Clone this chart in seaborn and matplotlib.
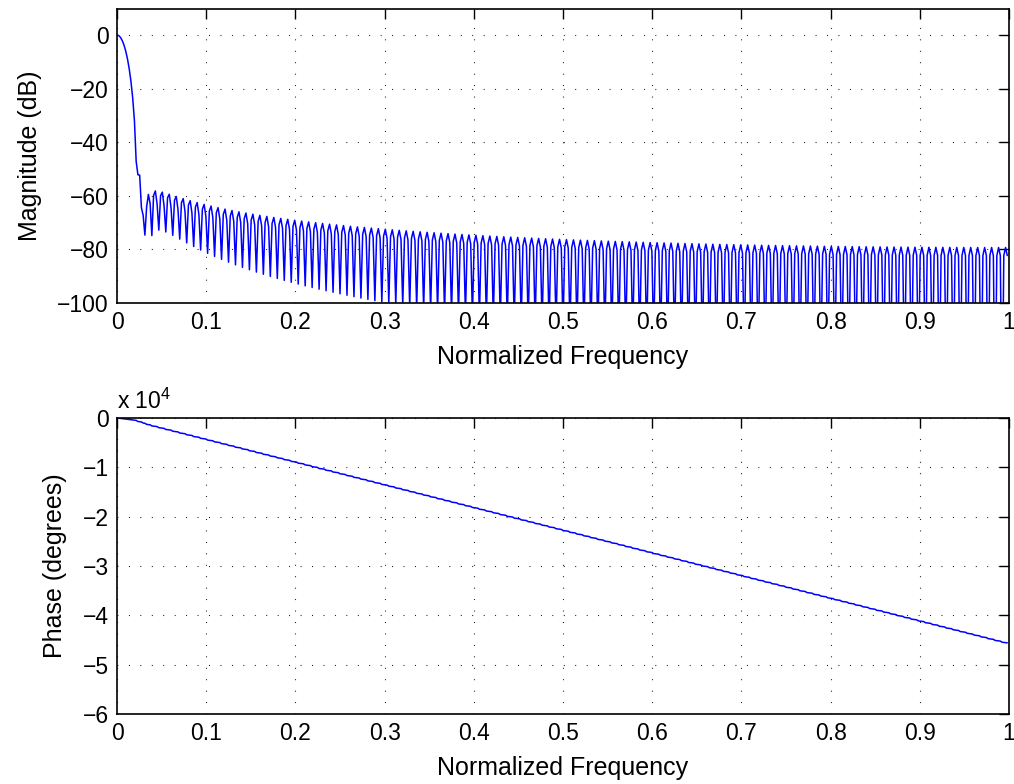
#frequency response (magnitude + phase) of a long lowpass FIR
import numpy as np
import pandas as pd
import matplotlib
matplotlib.use("Agg")
import matplotlib.pyplot as plt
import seaborn as sns

# filter settings (order from the phase slope, cutoff from the roll-off)
filter_order = 255
cutoff = 0.0091
n_points = 512

# axes settings
x_ticks = [0, 0.1, 0.2, 0.3, 0.4, 0.5, 0.6, 0.7, 0.8, 0.9, 1]
mag_ticks = [-100, -80, -60, -40, -20, 0]
mag_limits = [-100, 9.7]
phase_ticks = [-6, -5, -4, -3, -2, -1, 0]
phase_limits = [-6, 0]

# windowed-sinc lowpass (hamming), like fir1
n = np.arange(filter_order + 1)
delay = filter_order / 2
taps = cutoff * np.sinc(cutoff * (n - delay)) * np.hamming(filter_order + 1)
taps = taps / taps.sum()

# response on 512 points between 0 and nyquist
H = np.fft.fft(taps, 2 * n_points)[:n_points]
freq = np.arange(n_points) / n_points
mag_db = 20 * np.log10(np.abs(H) + 1e-15)

# phase: linear part plus a -180 step at every sign change of the amplitude
amp = np.real(H * np.exp(1j * np.pi * delay * freq))
flips = np.concatenate([[0], np.cumsum(np.diff(np.sign(amp)) != 0)])
phase_deg = -180 * delay * freq - 180 * flips

df = pd.DataFrame({"freq": freq, "mag": mag_db, "phase": phase_deg / 1e4})

sns.set_style("white")
plt.rcParams["font.family"] = ["Liberation Sans", "DejaVu Sans"]
plt.rcParams["mathtext.fontset"] = "custom"
plt.rcParams["mathtext.rm"] = "Liberation Sans"
plt.rcParams["mathtext.default"] = "regular"
plt.rcParams["text.color"] = "k"
plt.rcParams["axes.labelcolor"] = "k"
plt.rcParams["xtick.color"] = "k"
plt.rcParams["ytick.color"] = "k"

fig = plt.figure(figsize=(10.14, 7.84), dpi=100)
ax1 = fig.add_axes([0.1154, 0.6135, 0.8797, 0.375])
ax2 = fig.add_axes([0.1154, 0.0893, 0.8797, 0.3776])

grid_style = dict(linestyle=(0, (0.8, 9.5)), color="k", linewidth=0.8)

# magnitude
sns.lineplot(data=df, x="freq", y="mag", ax=ax1, color="b", linewidth=1.1, estimator=None)
ax1.set_ylim(mag_limits)
ax1.set_yticks(mag_ticks)
ax1.set_ylabel("Magnitude (dB)", fontsize=18, labelpad=11)

# phase
sns.lineplot(data=df, x="freq", y="phase", ax=ax2, color="b", linewidth=1.1, estimator=None)
ax2.set_ylim(phase_limits)
ax2.set_yticks(phase_ticks)
ax2.set_ylabel("Phase (degrees)", fontsize=18, labelpad=11)
ax2.text(0, 1.012, "x 10$^{4}$", transform=ax2.transAxes, ha="left", va="bottom", fontsize=16.5)

for ax in [ax1, ax2]:
    ax.set_xlim(0, 1)
    ax.set_xticks(x_ticks)
    ax.set_xticklabels([("%g" % t) for t in x_ticks])
    ax.set_xlabel("Normalized Frequency", fontsize=18, labelpad=7.5)
    ax.grid(True, **grid_style)
    ax.tick_params(direction="in", length=7, width=1, labelsize=16.5, pad=6,
                   top=True, right=True)
    for s in ax.spines.values():
        s.set_color("k")
        s.set_linewidth(1.2)

fig.savefig("out.png", dpi=100)
